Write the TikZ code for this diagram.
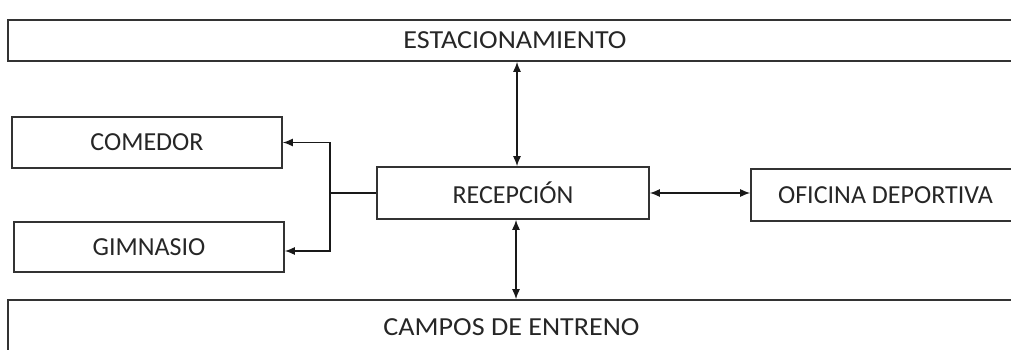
\documentclass[tikz,border=0pt]{standalone}
\usepackage{fontspec}
\setmainfont{Carlito}
\newfontfamily\widefont[FakeStretch=1.08]{Carlito}
\usetikzlibrary{arrows.meta}

\begin{document}
\begin{tikzpicture}[x=1pt, y=-1pt,
			>={Latex[length=10pt,width=8pt]},   % Pfeilspitzen
			box/.style={draw=black!80, line width=1.6pt, rectangle, inner sep=0pt,
				minimum width=#1, minimum height=51pt, text=black!85,
				font=\fontsize{26}{30}\selectfont},
			bar/.style={box=#1, font=\fontsize{26}{30}\widefont},
			link/.style={line width=1.4pt, draw=black!90}]
			% Bildbereich
			\useasboundingbox (0,0) rectangle (1011,350);
			\clip (0,0) rectangle (1011,350);
			% Boxen zeichnen
			\node[bar=1014pt, minimum height=41pt] (estac) at (515,40.5) {ESTACIONAMIENTO};
			\node[box=270pt] (comedor) at (147,142.5) {COMEDOR};
			\node[box=270pt, minimum height=50pt] (gimnasio) at (149,247) {GIMNASIO};
			\node[box=272pt, minimum height=52pt] (recep) at (513,193) {RECEPCIÓN};
			\node[box=269pt, minimum height=52pt] (oficina) at (885.5,195) {OFICINA DEPORTIVA};
			\node[bar=1007pt, minimum height=54pt] (campos) at (511.5,327) {CAMPOS DE ENTRENO};
			% Verbindungen zeichnen
			\coordinate (split) at (330,193);
			\draw[link, <->] (estac.south -| 517,0) -- (recep.north -| 517,0);
			\draw[link, <->] (recep.south -| 516,0) -- (campos.north -| 516,0);
			\draw[link, <->] (recep.east) -- (oficina.west |- recep.east);
			\draw[link] (recep.west) -- (split);
			\draw[link, ->] (split) |- (comedor.east);
			\draw[link, ->] (split) |- ([yshift=-4pt]gimnasio.east);
		\end{tikzpicture}
\end{document}
